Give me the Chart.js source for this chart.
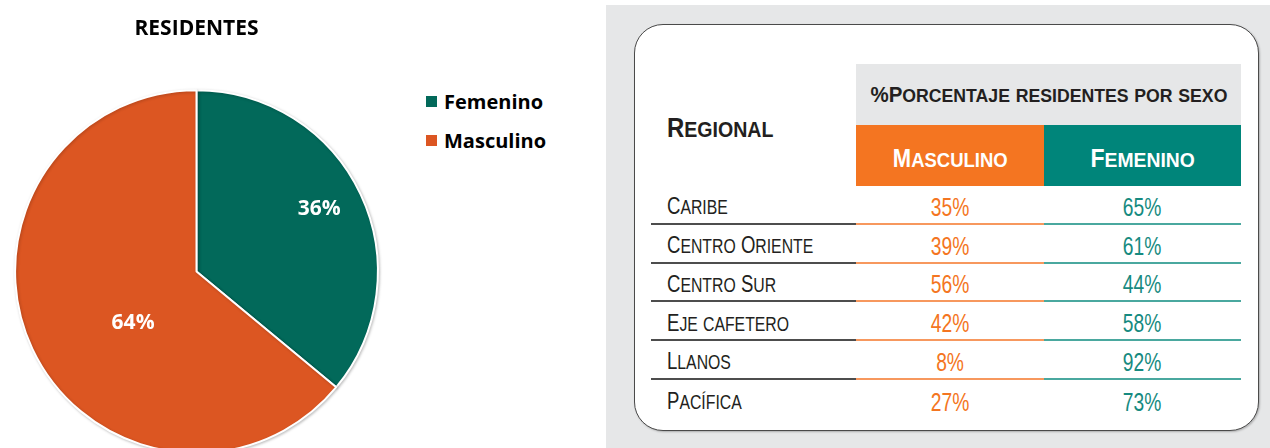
<!DOCTYPE html>
<html>
<head>
<meta charset="utf-8">
<script src="https://cdn.jsdelivr.net/npm/chart.js@4.4.1/dist/chart.umd.min.js"></script>
<style>
  html, body { margin: 0; padding: 0; }
  body { width: 1270px; height: 448px; overflow: hidden; position: relative; background: #fff; }
  #pieWrap { position: absolute; left: 0; top: 0; width: 393px; height: 454px; }
  #legend { position: absolute; left: 426px; top: 88px; font-family: "Open Sans", Lato, sans-serif; font-weight: bold; font-size: 20px; color: #000; }
  #legend .item { display: flex; align-items: center; height: 26px; margin-bottom: 13px; }
  #legend .box { width: 11px; height: 11px; margin-right: 7px; }
  #panel { position: absolute; left: 606px; top: 5px; width: 664px; height: 443px; background: #e6e7e8; }
  #card { position: absolute; left: 634px; top: 24px; width: 623px; height: 405px; background: #fff;
          border: 1.5px solid #4a4a4a; border-radius: 29px; box-shadow: 1px 1px 2px rgba(0,0,0,0.25); }
  #tbl { position: absolute; left: 651px; top: 64px; display: grid;
         grid-template-columns: 205px 188px 197px; grid-template-rows: 61px 61px repeat(6, 38.8px);
         font-family: "Liberation Sans", Arial, sans-serif; }
  #tbl > div { box-sizing: border-box; display: flex; align-items: center; }
  #tbl .sc { display: inline-block; white-space: nowrap; line-height: 1; }
  .hReg { grid-row: 1 / span 2; padding-left: 16px; font-weight: bold; color: #231f20; padding-top: 6px; }
  .hTop { grid-column: 2 / span 2; justify-content: center; background: #e6e7e8; font-weight: bold; color: #231f20; padding-top: 1px; }
  .hM { justify-content: center; background: #f47521; color: #fff; font-weight: bold; padding-top: 5px; }
  .hF { justify-content: center; background: #00857a; color: #fff; font-weight: bold; padding-top: 5px; }
  .cReg { padding-left: 16px; color: #231f20; padding-top: 5px; }
  .cM { justify-content: center; color: #f47521; padding-top: 6px; }
  .cF { justify-content: center; color: #168a80; padding-top: 6px; }
  .line.cReg { border-bottom: 2px solid #4d4d4d; }
  .line.cM { border-bottom: 2px solid #f7985e; }
  .line.cF { border-bottom: 2px solid #4aa89f; }
</style>
</head>
<body>
<div id="pieWrap"><canvas id="residentes" width="393" height="454"></canvas></div>
<div id="legend"></div>
<div id="panel"></div>
<div id="card"></div>
<div id="tbl"></div>

<script>
// residentes por sexo

const pieTitle = "RESIDENTES";
const sexLabels = ["Femenino", "Masculino"];
const sexValues = [36, 64];
const sexColors = ["#02695a", "#dc5622"];

const regiones = ["Caribe", "Centro Oriente", "Centro Sur", "Eje cafetero", "Llanos", "Pacífica"];
const pctMasculino = [35, 39, 56, 42, 8, 27];
const pctFemenino = [65, 61, 44, 58, 92, 73];

const tableTitle = "%Porcentaje residentes por sexo";
const regionalHeader = "Regional";
const colHeaders = ["Masculino", "Femenino"];

// where each pie label sits: share of the slice angle, share of the radius
const labelSpots = [{ t: 0.485, r: 0.76 }, { t: 0.44, r: 0.45 }];

const pieLabels = {
    id: "pieLabels",
    afterDatasetsDraw(chart) {
        const ctx = chart.ctx;
        const meta = chart.getDatasetMeta(0);
        ctx.save();
        ctx.fillStyle = "#fff";
        ctx.font = "bold 21px 'Open Sans', Lato, sans-serif";
        ctx.textAlign = "center";
        ctx.textBaseline = "middle";
        meta.data.forEach((arc, i) => {
            const spot = labelSpots[i];
            const a = arc.startAngle + (arc.endAngle - arc.startAngle) * spot.t;
            const rr = arc.outerRadius * spot.r;
            ctx.fillText(sexValues[i] + "%", arc.x + Math.cos(a) * rr, arc.y + Math.sin(a) * rr);
        });
        ctx.restore();
    }
};

const pieShadow = {
    id: "pieShadow",
    beforeDatasetsDraw(chart) {
        const ctx = chart.ctx;
        ctx.save();
        ctx.shadowColor = "rgba(0,0,0,0.22)";
        ctx.shadowBlur = 3;
        ctx.shadowOffsetX = 1;
        ctx.shadowOffsetY = 1;
    },
    afterDatasetsDraw(chart) {
        chart.ctx.restore();
    }
};

new Chart(document.getElementById("residentes"), {
    type: "pie",
    data: {
        labels: sexLabels,
        datasets: [{
            data: sexValues,
            backgroundColor: sexColors,
            borderColor: "#fff",
            borderWidth: 2
        }]
    },
    options: {
        responsive: false,
        animation: false,
        devicePixelRatio: 1,
        layout: { padding: 0 },
        plugins: {
            legend: { display: false },
            tooltip: { enabled: false },
            title: {
                display: true,
                text: pieTitle,
                color: "#000",
                font: { family: "'Open Sans', Lato, sans-serif", size: 21, weight: "bold", lineHeight: 1.2 },
                padding: { top: 16, bottom: 48 }
            }
        }
    },
    plugins: [pieShadow, pieLabels]
});

// legend, built from the same lists
const legend = document.getElementById("legend");
sexLabels.forEach((name, i) => {
    const item = document.createElement("div");
    item.className = "item";
    const box = document.createElement("span");
    box.className = "box";
    box.style.background = sexColors[i];
    const txt = document.createElement("span");
    txt.textContent = name;
    item.appendChild(box);
    item.appendChild(txt);
    legend.appendChild(item);
});

// table, small caps done by hand so the letter sizes can be set
const tbl = document.getElementById("tbl");
const isLower = c => c !== c.toUpperCase();

function smallCaps(text, big, small, sx, origin) {
    const wrap = document.createElement("span");
    wrap.className = "sc";
    wrap.style.transform = "scaleX(" + sx + ")";
    wrap.style.transformOrigin = origin;
    let i = 0;
    while (i < text.length) {
        const low = isLower(text[i]);
        let j = i;
        while (j < text.length && isLower(text[j]) === low) j++;
        const s = document.createElement("span");
        s.style.fontSize = (low ? small : big) + "px";
        s.textContent = low ? text.slice(i, j).toUpperCase() : text.slice(i, j);
        wrap.appendChild(s);
        i = j;
    }
    return wrap;
}

function cell(cls, content) {
    const d = document.createElement("div");
    d.className = cls;
    d.appendChild(content);
    tbl.appendChild(d);
}

function plain(text, size, sx) {
    const s = document.createElement("span");
    s.className = "sc";
    s.style.fontSize = size + "px";
    s.style.transform = "scaleX(" + sx + ")";
    s.textContent = text;
    return s;
}

cell("hReg", smallCaps(regionalHeader, 27.5, 22.5, 0.87, "left center"));
cell("hTop", smallCaps(tableTitle, 22, 19, 0.93, "center"));
cell("hM", smallCaps(colHeaders[0], 25, 21, 0.88, "center"));
cell("hF", smallCaps(colHeaders[1], 25, 21, 0.92, "center"));
regiones.forEach((r, i) => {
    const line = i < regiones.length - 1 ? " line" : "";
    cell("cReg" + line, smallCaps(r, 23.5, 20, 0.79, "left center"));
    cell("cM" + line, plain(pctMasculino[i] + "%", 25, 0.77));
    cell("cF" + line, plain(pctFemenino[i] + "%", 25, 0.77));
});
</script>
</body>
</html>
